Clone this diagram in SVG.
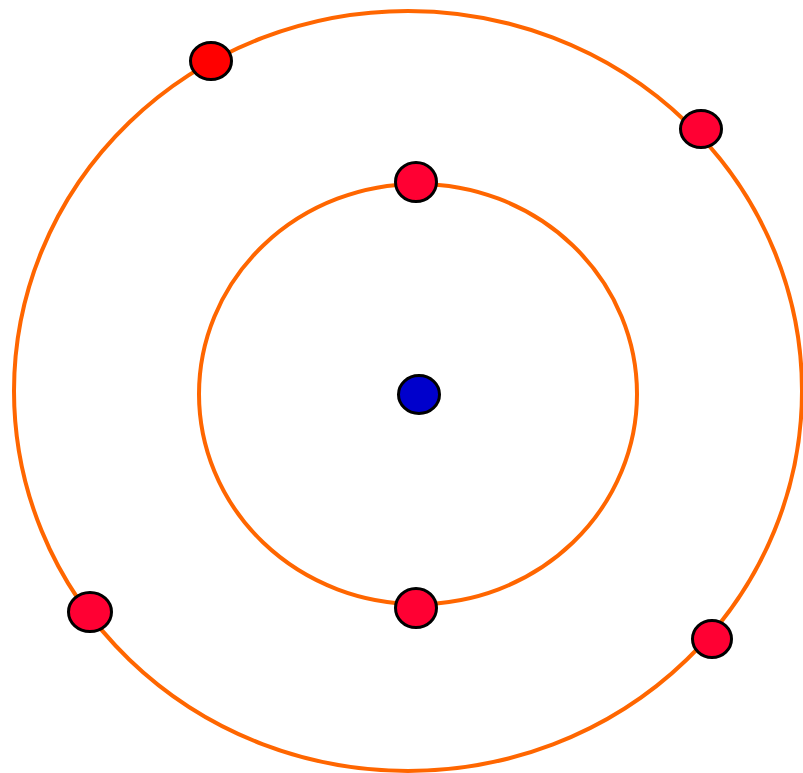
<svg xmlns="http://www.w3.org/2000/svg" width="803" height="773" viewBox="0 0 803 773">
<style>
.orbit{fill:none;stroke:#FF6600;stroke-width:4}
.e{fill:#FF0033;stroke:#000;stroke-width:3}
.e2{fill:#FF0000;stroke:#000;stroke-width:3}
.n{fill:#0000CC;stroke:#000;stroke-width:3}
</style>
<rect width="803" height="773" fill="#fff"/>
<g id="orbits">
<ellipse id="outer-orbit" class="orbit" cx="408" cy="391" rx="394" ry="380"/>
<ellipse id="inner-orbit" class="orbit" cx="418" cy="394" rx="219" ry="210"/>
</g>
<g id="nucleus"><ellipse class="n" cx="419" cy="394.5" rx="20.5" ry="19"/></g>
<g id="electron-inner-top"><ellipse class="e" cx="416" cy="182" rx="20.5" ry="19.5"/></g>
<g id="electron-inner-bottom"><ellipse class="e" cx="416" cy="608" rx="20.5" ry="19.5"/></g>
<g id="electron-outer-topleft"><ellipse class="e2" cx="211" cy="61" rx="20.5" ry="18.5"/></g>
<g id="electron-outer-topright"><ellipse class="e" cx="701" cy="129" rx="20.5" ry="18.5"/></g>
<g id="electron-outer-bottomleft"><ellipse class="e" cx="90" cy="612" rx="21.5" ry="19.5"/></g>
<g id="electron-outer-bottomright"><ellipse class="e" cx="712" cy="639" rx="19.5" ry="18.5"/></g>
</svg>
